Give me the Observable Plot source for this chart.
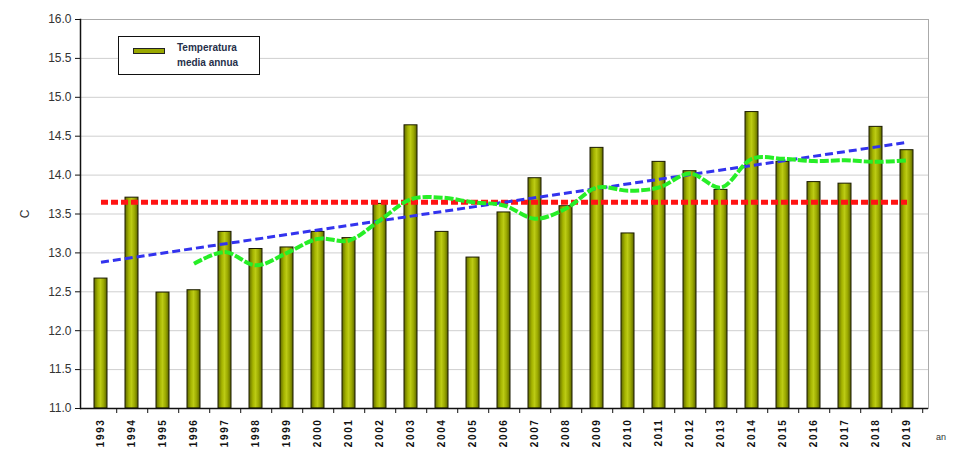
<!DOCTYPE html>
<html>
<head>
<meta charset="utf-8">
<script src="https://cdn.jsdelivr.net/npm/d3@7"></script>
<script src="https://cdn.jsdelivr.net/npm/@observablehq/plot@0.6"></script>
<style>
  html, body { margin: 0; padding: 0; background: #fff; }
  #wrap { position: relative; width: 953px; height: 451px; overflow: hidden; font-family: Arial, "Liberation Sans", sans-serif; }
  #legend { position: absolute; left: 118px; top: 36px; width: 142px; height: 39px; border: 1.5px solid #111; background: #fff; box-sizing: border-box; }
  #legend .sw { position: absolute; left: 14px; top: 11px; width: 30px; height: 4px; background: #9aa800; border: 1px solid #222; }
  #legend .lab { position: absolute; left: 58px; top: 3px; font-size: 10px; font-weight: bold; line-height: 15px; color: #26304a; }
  #an { position: absolute; left: 936px; top: 432px; font-size: 9px; color: #333; }
  g[aria-label="x-axis tick label"] text { letter-spacing: 1.6px; }
</style>
</head>
<body>
<div id="wrap">
  <div id="chart"></div>
  <div id="legend"><div class="sw"></div><div class="lab">Temperatura<br>media annua</div></div>
  <div id="an">an</div>
</div>
<script>
const years = ["1993","1994","1995","1996","1997","1998","1999","2000","2001","2002","2003","2004","2005","2006","2007","2008","2009","2010","2011","2012","2013","2014","2015","2016","2017","2018","2019"];
const temps = [12.67,13.71,12.49,12.52,13.27,13.05,13.07,13.27,13.19,13.63,14.64,13.27,12.94,13.52,13.96,13.60,14.35,13.25,14.17,14.05,13.81,14.81,14.17,13.91,13.89,14.62,14.32];

const avgYears = ["1996","1997","1998","1999","2000","2001","2002","2003","2004","2005","2006","2007","2008","2009","2010","2011","2012","2013","2014","2015","2016","2017","2018","2019"];
const avgValues = [12.86,13.01,12.84,13.00,13.18,13.16,13.42,13.69,13.71,13.65,13.61,13.44,13.57,13.84,13.80,13.84,14.02,13.84,14.21,14.21,14.18,14.19,14.17,14.19];

const meanYears = ["1993","2019"];
const meanValue = 13.65;
const trendYears = ["1993","2019"];
const trendValues = [12.88, 14.42];

const yTicks = [11.0,11.5,12.0,12.5,13.0,13.5,14.0,14.5,15.0,15.5,16.0];

const bars = years.map((y, i) => ({year: y, temp: temps[i]}));
const avg = avgYears.map((y, i) => ({year: y, v: avgValues[i]}));
const mean = meanYears.map(y => ({year: y, v: meanValue}));
const trend = trendYears.map((y, i) => ({year: y, v: trendValues[i]}));

const W = 953, H = 451, ML = 80, MR = 25, MT = 19, MB = 43;
const step = (W - ML - MR) / years.length;

const defs = () => {
  const d = d3.create("svg:defs");
  const g = d.append("linearGradient").attr("id", "barGrad").attr("x1", "0").attr("x2", "1").attr("y1", "0").attr("y2", "0");
  [["0%", "#5f6900"], ["30%", "#a5b400"], ["50%", "#bccb14"], ["75%", "#98a600"], ["100%", "#5a6300"]]
    .forEach(([o, c]) => g.append("stop").attr("offset", o).attr("stop-color", c));
  return d.node();
};

const chart = Plot.plot({
  width: W, height: H,
  marginLeft: ML, marginRight: MR, marginTop: MT, marginBottom: MB,
  style: {fontFamily: "Arial, 'Liberation Sans', sans-serif", background: "#fff", color: "#222"},
  x: {domain: years, padding: 0.58, paddingOuter: 0.29, align: 0.5},
  y: {domain: [11, 16]},
  marks: [
    defs,
    Plot.gridY(yTicks, {stroke: "#cfcfcf", strokeOpacity: 1}),
    Plot.frame({stroke: "#aaa"}),
    Plot.barY(bars, {x: "year", y1: 11, y2: "temp", fill: "url(#barGrad)", stroke: "#1a1a00", strokeWidth: 1}),
    Plot.line(mean, {x: "year", y: "v", stroke: "#ff1414", strokeWidth: 5, strokeDasharray: "7,3", strokeLinecap: "butt"}),
    Plot.line(trend, {x: "year", y: "v", stroke: "#3333ee", strokeWidth: 3, strokeDasharray: "8,4", strokeLinecap: "butt"}),
    Plot.line(avg, {x: "year", y: "v", stroke: "#27ee27", strokeWidth: 4, strokeDasharray: "9,2", strokeLinecap: "butt", curve: "catmull-rom"}),
    Plot.ruleY([11], {stroke: "#111", strokeWidth: 1.5}),
    Plot.frame({anchor: "left", stroke: "#111", strokeWidth: 1.5}),
    Plot.axisY(yTicks, {tickSize: 5, tickPadding: 4, tickFormat: d3.format(".1f"), fontSize: 12, fill: "#333", stroke: "#111", label: "C", labelAnchor: "center", labelArrow: "none", labelOffset: 60}),
    Plot.axisX({tickSize: 0, tickRotate: -90, tickPadding: 10, fontSize: 10, fontWeight: "bold", fill: "#111", label: null}),
    Plot.axisX({tickSize: 5, text: null, dx: step / 2, stroke: "#111", label: null})
  ]
});
document.getElementById("chart").appendChild(chart);
</script>
</body>
</html>
